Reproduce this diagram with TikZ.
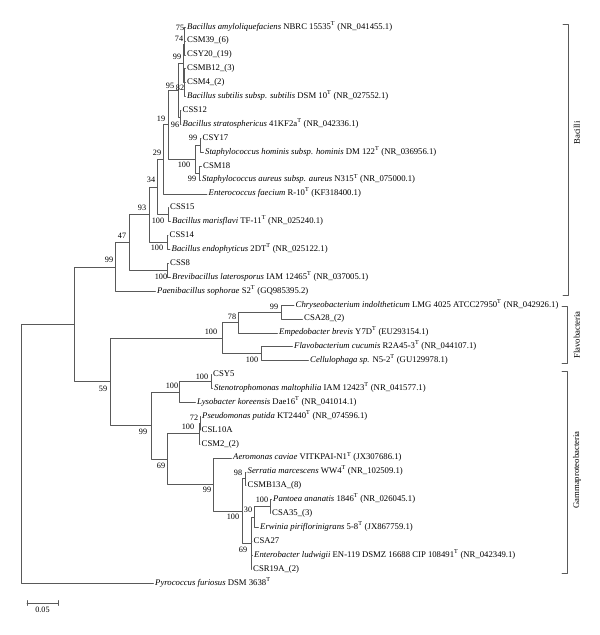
\documentclass[tikz,border=0pt]{standalone}
\usepackage{fontspec}
\setmainfont{Liberation Serif}
\newcommand{\Ts}{\textsuperscript{T}}
\begin{document}
\begin{tikzpicture}[x=1pt, y=-1pt, line join=round, line cap=round,
	br/.style={draw=black!65, line width=0.6pt},
	leaf/.style={anchor=west, inner sep=1.5pt, text height=6pt, text depth=2pt, font=\fontsize{8.7}{10}\selectfont},
	boot/.style={inner sep=0pt, font=\fontsize{8.2}{10}\selectfont},
	clade/.style={rotate=90, inner sep=0pt, font=\fontsize{8.7}{10}\selectfont}]
	\useasboundingbox (0,0) rectangle (600,635);
	% Bacilli
	\node[leaf] (bamy) at (185.5,27.0) {\textit{Bacillus amyloliquefaciens} NBRC 15535\Ts{} (NR\_041455.1)};
	\node[leaf] (csm39) at (185.5,40.9) {CSM39\_(6)};
	\node[leaf] (csy20) at (185.5,54.8) {CSY20\_(19)};
	\node[leaf] (csmb12) at (185.5,68.7) {CSMB12\_(3)};
	\node[leaf] (csm4) at (185.5,82.6) {CSM4\_(2)};
	\node[leaf] (bsub) at (185.5,96.5) {\textit{Bacillus subtilis subsp. subtilis} DSM 10\Ts{} (NR\_027552.1)};
	\node[leaf] (css12) at (181,110.4) {CSS12};
	\node[leaf] (bstr) at (181,124.3) {\textit{Bacillus stratosphericus} 41KF2a\Ts{} (NR\_042336.1)};
	\node[leaf] (csy17) at (201,138.2) {CSY17};
	\node[leaf] (shom) at (203.5,152.1) {\textit{Staphylococcus hominis subsp. hominis} DM 122\Ts{} (NR\_036956.1)};
	\node[leaf] (csm18) at (201.5,166.0) {CSM18};
	\node[leaf] (saur) at (200.5,179.9) {\textit{Staphylococcus aureus subsp. aureus} N315\Ts{} (NR\_075000.1)};
	\node[leaf] (efae) at (207,193.8) {\textit{Enterococcus faecium} R-10\Ts{} (KF318400.1)};
	\node[leaf] (css15) at (168.5,207.7) {CSS15};
	\node[leaf] (bmar) at (170.5,221.6) {\textit{Bacillus marisflavi} TF-11\Ts{} (NR\_025240.1)};
	\node[leaf] (css14) at (168,235.5) {CSS14};
	\node[leaf] (bend) at (170,249.4) {\textit{Bacillus endophyticus} 2DT\Ts{} (NR\_025122.1)};
	\node[leaf] (css8) at (168.5,263.3) {CSS8};
	\node[leaf] (brev) at (170.5,277.2) {\textit{Brevibacillus laterosporus} IAM 12465\Ts{} (NR\_037005.1)};
	\node[leaf] (paen) at (155.5,291.1) {\textit{Paenibacillus sophorae} S2\Ts{} (GQ985395.2)};
	% Flavobacteria
	\node[leaf] (chry) at (294,305.0) {\textit{Chryseobacterium indoltheticum} LMG 4025 ATCC27950\Ts{} (NR\_042926.1)};
	\node[leaf] (csa28) at (302.5,318.9) {CSA28\_(2)};
	\node[leaf] (empe) at (277.5,332.8) {\textit{Empedobacter brevis} Y7D\Ts{} (EU293154.1)};
	\node[leaf] (flav) at (292.5,346.7) {\textit{Flavobacterium cucumis} R2A45-3\Ts{} (NR\_044107.1)};
	\node[leaf] (cell) at (308.5,360.6) {\textit{Cellulophaga sp.} N5-2\Ts{} (GU129978.1)};
	% Gammaproteobacteria
	\node[leaf] (csy5) at (211.5,374.5) {CSY5};
	\node[leaf] (sten) at (212.5,388.4) {\textit{Stenotrophomonas maltophilia} IAM 12423\Ts{} (NR\_041577.1)};
	\node[leaf] (lyso) at (195.5,402.3) {\textit{Lysobacter koreensis} Dae16\Ts{} (NR\_041014.1)};
	\node[leaf] (pput) at (200.5,416.2) {\textit{Pseudomonas putida} KT2440\Ts{} (NR\_074596.1)};
	\node[leaf] (csl10a) at (200,430.1) {CSL10A};
	\node[leaf] (csm2) at (200,444.0) {CSM2\_(2)};
	\node[leaf] (aero) at (231.5,457.9) {\textit{Aeromonas caviae} VITKPAI-N1\Ts{} (JX307686.1)};
	\node[leaf] (serr) at (246,471.8) {\textit{Serratia marcescens} WW4\Ts{} (NR\_102509.1)};
	\node[leaf] (csmb13a) at (246,485.7) {CSMB13A\_(8)};
	\node[leaf] (pant) at (271.5,499.6) {\textit{Pantoea ananatis} 1846\Ts{} (NR\_026045.1)};
	\node[leaf] (csa35) at (270.5,513.5) {CSA35\_(3)};
	\node[leaf] (erwi) at (258.5,527.4) {\textit{Erwinia piriflorinigrans} 5-8\Ts{} (JX867759.1)};
	\node[leaf] (csa27) at (252,541.3) {CSA27};
	\node[leaf] (entb) at (252.5,555.2) {\textit{Enterobacter ludwigii} EN-119 DSMZ 16688 CIP 108491\Ts{} (NR\_042349.1)};
	\node[leaf] (csr19a) at (251.5,569.1) {CSR19A\_(2)};
	\node[leaf] (pyro) at (153.5,583.0) {\textit{Pyrococcus furiosus} DSM 3638\Ts};
	% internal nodes
	\coordinate (n75) at (184.5,33.95);
	\coordinate (n74) at (184,44.4);
	\coordinate (n82) at (184.5,82.6);
	\coordinate (n99a) at (183.5,63.5);
	\coordinate (n96) at (180.5,117.35);
	\coordinate (n95) at (178,90.4);
	\coordinate (n99h) at (200.5,145.15);
	\coordinate (n99s) at (199.5,172.95);
	\coordinate (n100st) at (195,159.05);
	\coordinate (n19) at (168,124.7);
	\coordinate (n29) at (163,159.3);
	\coordinate (n100m) at (168,214.65);
	\coordinate (n34) at (157,186.95);
	\coordinate (n100e) at (167,242.45);
	\coordinate (n93) at (149,214.7);
	\coordinate (n100b) at (167.5,270.25);
	\coordinate (n47) at (129,242.5);
	\coordinate (n99bac) at (115,266.8);
	\coordinate (n99c) at (281,311.95);
	\coordinate (n78) at (238,322.4);
	\coordinate (n100fc) at (261,353.65);
	\coordinate (n100fl) at (222,338.0);
	\coordinate (n100sm) at (211,381.45);
	\coordinate (n100ly) at (179,391.9);
	\coordinate (n72) at (200,423.15);
	\coordinate (n100ps) at (199,433.6);
	\coordinate (n98) at (245,478.75);
	\coordinate (n100pa) at (270,506.55);
	\coordinate (n30) at (254,517.0);
	\coordinate (n69en) at (251,543.05);
	\coordinate (n100en) at (242,510.9);
	\coordinate (n99ae) at (213,484.4);
	\coordinate (n69) at (167,459.0);
	\coordinate (n99g) at (151,425.45);
	\coordinate (n59) at (110,381.7);
	\coordinate (nin) at (74,324.25);
	\coordinate (root) at (21,453.6);
	% branches
	\draw[br] (root) |- (nin) (root) |- (pyro.west);
	\draw[br] (nin) |- (n99bac) (nin) |- (n59);
	\draw[br] (n99bac) |- (n47) (n99bac) |- (paen.west);
	\draw[br] (n47) |- (n93) (n47) |- (n100b);
	\draw[br] (n100b) |- (css8.west) (n100b) |- (brev.west);
	\draw[br] (n93) |- (n34) (n93) |- (n100e);
	\draw[br] (n100e) |- (css14.west) (n100e) |- (bend.west);
	\draw[br] (n34) |- (n29) (n34) |- (n100m);
	\draw[br] (n100m) |- (css15.west) (n100m) |- (bmar.west);
	\draw[br] (n29) |- (n19) (n29) |- (efae.west);
	\draw[br] (n19) |- (n95) (n19) |- (n100st);
	\draw[br] (n100st) |- (n99h) (n100st) |- (n99s);
	\draw[br] (n99h) |- (csy17.west) (n99h) |- (shom.west);
	\draw[br] (n99s) |- (csm18.west) (n99s) |- (saur.west);
	\draw[br] (n95) |- (n99a) (n95) |- (n96);
	\draw[br] (n96) |- (css12.west) (n96) |- (bstr.west);
	\draw[br] (n99a) |- (n74) (n99a) |- (n82);
	\draw[br] (n74) |- (n75) (n74) |- (csy20.west);
	\draw[br] (n75) |- (bamy.west) (n75) |- (csm39.west);
	\draw[br] (n82) |- (csmb12.west) (n82) |- (csm4.west) (n82) |- (bsub.west);
	\draw[br] (n59) |- (n100fl) (n59) |- (n99g);
	\draw[br] (n100fl) |- (n78) (n100fl) |- (n100fc);
	\draw[br] (n78) |- (n99c) (n78) |- (empe.west);
	\draw[br] (n99c) |- (chry.west) (n99c) |- (csa28.west);
	\draw[br] (n100fc) |- (flav.west) (n100fc) |- (cell.west);
	\draw[br] (n99g) |- (n100ly) (n99g) |- (n69);
	\draw[br] (n100ly) |- (n100sm) (n100ly) |- (lyso.west);
	\draw[br] (n100sm) |- (csy5.west) (n100sm) |- (sten.west);
	\draw[br] (n69) |- (n100ps) (n69) |- (n99ae);
	\draw[br] (n100ps) |- (n72) (n100ps) |- (csm2.west);
	\draw[br] (n72) |- (pput.west) (n72) |- (csl10a.west);
	\draw[br] (n99ae) |- (aero.west) (n99ae) |- (n100en);
	\draw[br] (n100en) |- (n98) (n100en) |- (n69en);
	\draw[br] (n98) |- (serr.west) (n98) |- (csmb13a.west);
	\draw[br] (n69en) |- (n30) (n69en) |- (csa27.west) (n69en) |- (entb.west) (n69en) |- (csr19a.west);
	\draw[br] (n30) |- (n100pa) (n30) |- (erwi.west);
	\draw[br] (n100pa) |- (pant.west) (n100pa) |- (csa35.west);
	% bootstrap values
	\node[boot] (b75) at (180,28) {75};
	\node[boot] (b74) at (179,39) {74};
	\node[boot] (b99a) at (177,57) {99};
	\node[boot] (b95) at (170,86) {95};
	\node[boot] (b82) at (180,88) {82};
	\node[boot] (b19) at (161,119) {19};
	\node[boot] (b96) at (175,125) {96};
	\node[boot] (b99h) at (193,138) {99};
	\node[boot] (b29) at (157,153) {29};
	\node[boot] (b100st) at (184,165) {100};
	\node[boot] (b99s) at (192,179) {99};
	\node[boot] (b34) at (151,180) {34};
	\node[boot] (b93) at (142,208) {93};
	\node[boot] (b100m) at (158,221) {100};
	\node[boot] (b47) at (122,236) {47};
	\node[boot] (b100e) at (157,248) {100};
	\node[boot] (b99bac) at (109,260) {99};
	\node[boot] (b100b) at (161,277) {100};
	\node[boot] (b99c) at (274,307) {99};
	\node[boot] (b78) at (232,317) {78};
	\node[boot] (b100fl) at (211,332) {100};
	\node[boot] (b100fc) at (252,360) {100};
	\node[boot] (b100sm) at (202,377) {100};
	\node[boot] (b100ly) at (172,386) {100};
	\node[boot] (b59) at (103,389) {59};
	\node[boot] (b72) at (194,418) {72};
	\node[boot] (b100ps) at (188,427) {100};
	\node[boot] (b99g) at (143,432) {99};
	\node[boot] (b69) at (161,466) {69};
	\node[boot] (b98) at (238,473) {98};
	\node[boot] (b99ae) at (207,490) {99};
	\node[boot] (b100pa) at (262,500) {100};
	\node[boot] (b30) at (248,510) {30};
	\node[boot] (b100en) at (233,517) {100};
	\node[boot] (b69en) at (243,550) {69};
	% clades
	\draw[br] (563,24) -- (568,24) -- (568,295) -- (563,295);
	\node[clade] (bacilli) at (577,133) {Bacilli};
	\draw[br] (562,306) -- (567,306) -- (567,363) -- (562,363);
	\node[clade] (flavo) at (577,335) {Flavobacteria};
	\draw[br] (562,371) -- (567,371) -- (567,573) -- (562,573);
	\node[clade] (gamma) at (577,470) {Gammaproteobacteria};
	% scale bar
	\draw[br] (27,600.5) -- (27,605.5) (27,603) -- (58,603) (58,600.5) -- (58,605.5);
	\node[boot] (sbar) at (42.5,610) {0.05};
\end{tikzpicture}
\end{document}
